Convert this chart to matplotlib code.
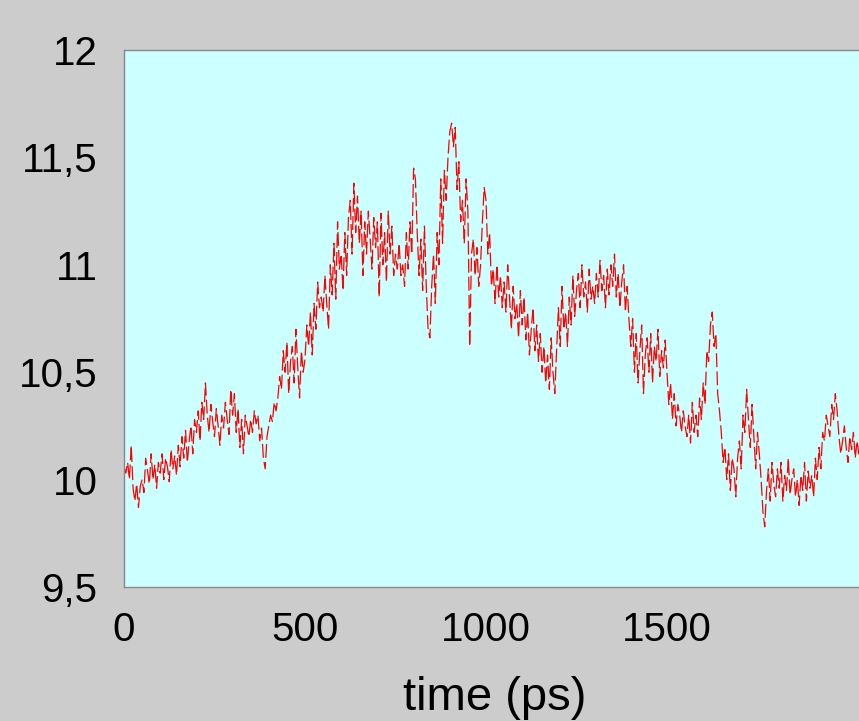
import numpy as np
import matplotlib
matplotlib.use("Agg")
import matplotlib.pyplot as plt
from matplotlib.ticker import FuncFormatter

# ---- data (one value every 5 ps) ----
t_start = 0
t_step = 5
values = [
    10.06, 10.03, 10.08, 10.00, 10.16, 9.96, 9.90, 9.98, 9.87, 9.97,
    10.00, 9.94, 10.10, 10.04, 9.98, 10.12, 10.00, 10.07, 9.96, 10.08,
    10.03, 10.12, 10.00, 10.10, 10.06, 9.99, 10.14, 10.05, 10.11, 10.02,
    10.16, 10.06, 10.20, 10.10, 10.23, 10.08, 10.18, 10.25, 10.12, 10.28,
    10.22, 10.32, 10.18, 10.36, 10.28, 10.45, 10.30, 10.22, 10.35, 10.27,
    10.20, 10.33, 10.25, 10.16, 10.30, 10.24, 10.36, 10.28, 10.21, 10.42,
    10.30, 10.40, 10.22, 10.33, 10.15, 10.28, 10.12, 10.30, 10.25, 10.20,
    10.28, 10.22, 10.32, 10.26, 10.30, 10.18, 10.24, 10.10, 10.05, 10.20,
    10.25, 10.30, 10.27, 10.36, 10.32, 10.38, 10.48, 10.42, 10.60, 10.50,
    10.64, 10.40, 10.55, 10.62, 10.45, 10.70, 10.52, 10.38, 10.60, 10.50,
    10.56, 10.72, 10.62, 10.78, 10.58, 10.82, 10.70, 10.92, 10.80, 10.85,
    10.78, 10.95, 10.82, 10.70, 11.00, 10.86, 11.10, 10.84, 11.20, 10.98,
    11.05, 10.88, 11.15, 10.95, 11.22, 11.30, 11.05, 11.38, 11.15, 11.32,
    11.10, 11.25, 10.95, 11.20, 11.05, 11.25, 11.12, 10.98, 11.22, 11.08,
    11.20, 10.85, 11.24, 11.00, 11.15, 10.92, 11.25, 11.05, 11.18, 10.95,
    11.05, 10.98, 11.10, 10.95, 11.00, 10.90, 11.15, 10.98, 11.20, 11.05,
    11.45, 11.40, 11.15, 10.95, 11.12, 10.88, 11.18, 10.90, 10.70, 10.66,
    10.90, 11.05, 10.82, 11.15, 11.00, 11.40, 11.10, 11.44, 11.30, 11.50,
    11.62, 11.66, 11.55, 11.64, 11.35, 11.48, 11.20, 11.30, 11.10, 11.40,
    11.25, 10.62, 11.05, 11.12, 10.95, 11.08, 10.90, 11.00, 11.20, 11.36,
    11.30, 11.05, 11.15, 10.90, 10.98, 10.82, 11.00, 10.85, 10.95, 10.80,
    10.92, 10.78, 11.00, 10.85, 10.70, 10.90, 10.75, 10.82, 10.66, 10.88,
    10.72, 10.85, 10.65, 10.78, 10.58, 10.70, 10.80, 10.60, 10.72, 10.55,
    10.68, 10.50, 10.62, 10.45, 10.58, 10.42, 10.66, 10.50, 10.40, 10.60,
    10.80, 10.62, 10.90, 10.70, 10.78, 10.62, 10.85, 10.72, 10.95, 10.76,
    10.88, 10.96, 10.80, 11.00, 10.85, 10.92, 10.78, 10.98, 10.84, 10.90,
    10.82, 10.96, 10.85, 11.02, 10.88, 10.95, 10.80, 10.98, 10.86, 11.00,
    10.90, 11.05, 10.85, 10.96, 10.80, 10.92, 11.00, 10.78, 10.90, 10.74,
    10.62, 10.75, 10.50, 10.68, 10.45, 10.60, 10.72, 10.40, 10.58, 10.66,
    10.50, 10.68, 10.45, 10.62, 10.55, 10.70, 10.48, 10.60, 10.52, 10.65,
    10.50, 10.35, 10.45, 10.28, 10.40, 10.25, 10.35, 10.30, 10.22, 10.32,
    10.25, 10.20, 10.30, 10.17, 10.36, 10.22, 10.30, 10.20, 10.38, 10.28,
    10.45, 10.35, 10.60, 10.55, 10.72, 10.78, 10.62, 10.68, 10.40, 10.32,
    10.22, 10.08, 10.15, 10.00, 10.12, 9.95, 10.10, 10.05, 9.92, 10.10,
    10.18, 10.05, 10.30, 10.22, 10.42, 10.28, 10.15, 10.35, 10.20, 10.05,
    10.22, 10.12, 10.00, 9.85, 9.78, 9.95, 10.05, 9.90, 10.08, 9.98,
    9.92, 10.05, 9.96, 10.08, 9.90, 10.02, 9.95, 10.10, 9.93, 10.00,
    10.05, 9.92, 10.00, 9.88, 10.02, 9.95, 10.08, 9.90, 10.04, 9.96,
    10.02, 9.92, 10.10, 10.00, 10.15, 10.05, 10.22, 10.18, 10.30, 10.25,
    10.20, 10.35, 10.28, 10.40, 10.32, 10.20, 10.12, 10.18, 10.25, 10.15,
    10.08, 10.20, 10.14, 10.22, 10.10, 10.18, 10.12, 10.20, 10.10, 10.15,
]
times = t_start + t_step * np.arange(len(values))

x_ticks = [0, 500, 1000, 1500]
y_ticks = [9.5, 10, 10.5, 11, 11.5, 12]
x_label = "time (ps)"

# ---- figure ----
W, H, DPI = 859, 721, 100
fig = plt.figure(figsize=(W / DPI, H / DPI), dpi=DPI, facecolor="#cccccc")
ax_left, ax_top, ax_bottom = 124, 50, 587
x_max = 2100
px_per_unit = 181 / 500
ax_w = x_max * px_per_unit
ax = fig.add_axes([ax_left / W, 1 - ax_bottom / H, ax_w / W, (ax_bottom - ax_top) / H])
ax.set_facecolor("#ccffff")

plt.rcParams["lines.scale_dashes"] = False
ax.plot(times, values, color="#ff0000", lw=0.9, dashes=(10, 3), solid_capstyle="butt")

ax.set_xlim(0, x_max)
ax.set_ylim(9.5, 12)
ax.set_xticks(x_ticks)
ax.set_yticks(y_ticks)
ax.yaxis.set_major_formatter(FuncFormatter(lambda v, p: f"{v:g}".replace(".", ",")))
ax.tick_params(length=0, labelsize=29, colors="black", labelcolor="black")
ax.tick_params(axis="x", pad=17)
ax.tick_params(axis="y", pad=19)
for lab in ax.get_xticklabels() + ax.get_yticklabels():
    lab.set_fontfamily("Liberation Sans")

for side in ["left", "top", "bottom"]:
    ax.spines[side].set_color("#888888")
    ax.spines[side].set_linewidth(1.0)
ax.spines["right"].set_visible(False)

ax.set_xlabel(x_label, fontsize=34, fontfamily="Liberation Sans")
ax.xaxis.set_label_coords(495 / W, 1 - 710 / H, transform=fig.transFigure)
ax.xaxis.label.set_va("baseline")

fig.savefig("out.png", dpi=DPI, facecolor=fig.get_facecolor())
